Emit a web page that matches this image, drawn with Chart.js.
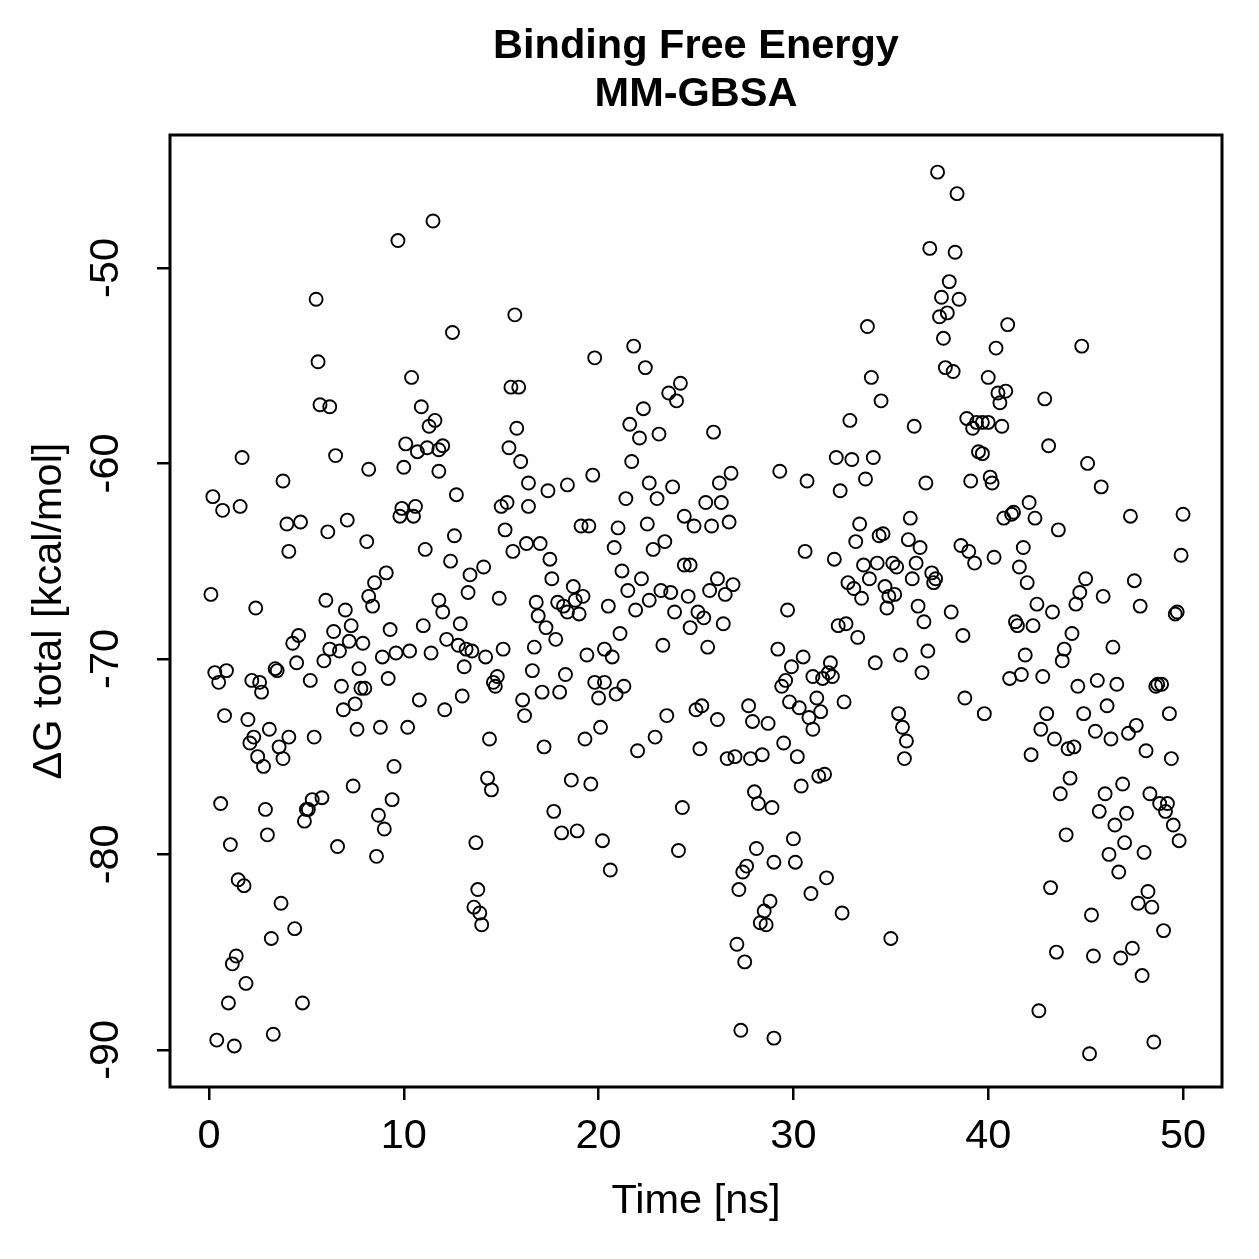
<!DOCTYPE html>
<html>
<head>
<meta charset="utf-8">
<script src="https://cdn.jsdelivr.net/npm/chart.js@4"></script>
<style>
  html, body { margin: 0; padding: 0; background: #fff; }
  #wrap { width: 1259px; height: 1259px; }
</style>
</head>
<body>
<div id="wrap"><canvas id="myChart" width="1259" height="1259"></canvas></div>
<script>
const titleLines = ["Binding Free Energy", "MM-GBSA"];
const xTitle = "Time [ns]";
const yTitle = "ΔG total [kcal/mol]";
const xTicks = [0, 10, 20, 30, 40, 50];
const yTicks = [-90, -80, -70, -60, -50];

// time (ns) of each frame
const timeNs = [
  11.5, 9.7, 5.5, 5.6, 10.4, 5.7, 6.2, 10.9, 11.6, 11.3,
  10.1, 10.7, 11.2, 11.8, 12.0, 1.7, 6.5,
  8.2, 10.0, 11.8, 3.8, 0.2, 0.7, 1.6, 4.0, 4.7, 6.1,
  7.1, 8.1, 9.9, 10.6, 9.8, 10.5, 4.1, 11.1, 12.4, 9.1,
  8.5, 8.2, 8.4, 0.1, 2.4, 6.0, 7.0, 7.3, 6.4, 4.6,
  4.3, 7.2, 7.9, 9.3, 11.0, 11.8, 12.0, 12.2, 6.2, 6.7,
  5.9, 8.9, 9.6, 10.3, 11.4, 0.3, 0.9, 0.5, 2.2, 2.6,
  2.7, 3.4, 3.5, 4.5, 5.2, 7.7, 6.8, 7.8, 8.0, 9.2,
  10.8, 12.1, 0.8, 2.0, 3.1, 2.3, 2.1, 3.6, 4.1, 5.4,
  6.9, 7.5, 7.6, 8.8, 10.2, 2.5, 3.8,
  16.0, 21.7, 16.4, 17.4, 18.4, 19.7, 22.6, 23.8, 21.4, 23.0,
  12.7, 15.0, 15.3, 16.4, 24.4, 24.9, 15.2, 19.1, 19.5, 21.0,
  22.5, 12.6, 16.3, 17.0, 15.6, 20.8, 22.8, 23.4, 17.5, 17.6,
  14.1, 13.4, 24.4, 24.7, 21.2, 22.2, 18.7, 19.2, 18.8, 17.9,
  18.2, 18.4, 19.0, 16.8, 16.9, 17.3, 17.8, 14.9, 13.3, 20.5,
  21.5, 21.9, 22.6, 23.2, 23.7, 23.9, 24.6, 24.7, 21.1, 12.9,
  12.8, 13.2, 13.5, 14.2, 15.1, 16.7, 23.3, 19.4, 20.3, 20.7,
  13.1, 16.6, 18.3, 14.8, 14.6, 14.7, 19.8, 20.3, 21.3, 20.9,
  20.0, 17.1, 18.0, 16.1, 13.0, 16.2, 23.5, 20.1, 22.9, 14.4,
  17.2, 19.3, 22.0,
  32.2, 33.0, 34.1, 29.3, 30.7, 32.4, 33.7, 36.8, 26.8, 26.2,
  25.5, 26.3, 25.8, 26.7, 30.6, 32.1, 33.4, 34.4, 34.6, 33.2,
  36.0, 35.9, 36.5, 26.1, 26.9, 25.7, 26.5, 25.1, 25.4, 26.4,
  25.6, 29.7, 33.6, 34.3, 35.1, 35.3, 36.3, 37.1, 37.3, 37.2,
  36.1, 33.9, 32.8, 33.1, 33.5, 34.7, 34.9, 35.2, 34.8, 36.4,
  36.7, 32.3, 32.7, 33.3, 35.5, 36.9, 36.6, 34.2, 29.2, 30.5,
  29.9, 31.9, 31.0, 31.5, 31.8, 32.0, 29.6, 29.4, 29.8, 30.3,
  31.2, 31.4, 30.8, 31.0, 32.6, 27.7, 27.9, 28.7, 25.0, 25.3,
  26.1, 25.2, 29.5, 35.4, 35.6, 35.8, 26.6, 27.0, 27.8, 28.4,
  30.2, 35.7,
  45.1, 45.8, 39.1, 40.1, 40.2, 42.1, 40.8, 41.2, 41.3, 42.4,
  43.6, 47.3, 50.0, 38.6, 39.0, 39.3, 40.3, 41.8, 41.6, 42.0,
  49.9, 45.0, 44.7, 44.5, 45.9, 47.5, 47.8, 42.5, 43.3, 38.1,
  41.4, 41.5, 42.3, 38.7, 44.3, 43.9, 43.8, 46.4, 49.7, 49.6,
  41.9, 41.7, 41.1, 42.8, 44.6, 45.6, 46.6, 48.6, 48.7, 48.9,
  38.8, 39.8, 43.0, 44.9, 46.1, 49.3, 42.7, 43.4, 45.5, 46.3,
  47.2, 47.6, 44.1, 44.4, 42.2, 48.1, 49.4,
  37.4, 38.4, 37.0, 38.3, 38.0, 37.6, 38.5, 37.9, 37.5, 37.7,
  41.0, 40.4, 44.8, 37.8, 38.2, 40.0, 40.5, 40.9, 40.6, 42.9,
  38.9, 39.2, 39.4, 39.7, 40.0, 40.7, 43.1, 39.5, 39.7,
  33.8, 34.0, 34.5, 32.9, 36.2, 25.9,
  15.7, 12.5, 19.8, 21.8, 22.4, 24.2, 23.6, 24.0, 22.3, 21.6,
  22.1, 23.1, 15.5, 15.9, 15.8, 15.4,
  44.2, 46.9, 43.7, 46.0, 48.3, 48.8, 49.2, 49.1, 45.7, 47.1,
  46.5, 49.5, 49.8, 44.0, 47.0, 46.2, 48.0, 46.7, 43.2, 48.2,
  47.7, 48.4, 45.3, 49.0, 43.5, 45.4, 46.8, 47.4, 47.9, 42.6,
  48.5, 45.2,
  31.6, 31.3, 30.4, 28.0, 28.2, 28.9, 24.3, 30.0, 28.1, 29.0,
  30.1, 27.6, 27.4, 31.7, 27.2, 30.9, 28.8, 28.5, 28.3, 28.6,
  32.5, 35.0, 27.1, 27.5, 27.3, 29.0,
  14.3, 14.5, 18.6, 19.6, 17.7, 18.1, 18.9, 20.2, 13.7, 24.1,
  20.6, 13.8, 13.6, 13.9, 14.0,
  2.8, 9.5, 7.4, 9.4, 0.6, 2.9, 5.3, 5.8, 5.0, 5.1,
  4.9, 8.7, 9.0, 3.0, 1.1, 6.6, 8.6, 1.5, 1.8, 3.7,
  4.4, 3.2, 1.4, 1.2, 1.9, 1.0, 4.8, 3.3, 0.4, 1.3
];

// ΔG total (kcal/mol), same order as timeNs
const dGTotal = [
  -47.6, -48.6, -51.6, -54.8, -55.6, -57.0, -57.1, -57.1, -57.8, -58.1,
  -59.0, -59.4, -59.2, -59.3, -59.1, -59.7, -59.6,
  -60.3, -60.2, -60.4, -60.9, -61.7, -62.4, -62.2, -63.1, -63.0, -63.5,
  -62.9, -64.0, -62.3, -62.2, -62.7, -62.7, -64.5, -64.4, -65.0, -65.6,
  -66.1, -66.8, -67.3, -66.7, -67.4, -67.0, -67.5, -68.3, -68.6, -68.8,
  -69.2, -69.1, -69.2, -68.5, -68.3, -67.0, -67.6, -69.0, -69.5, -69.6,
  -70.1, -69.9, -69.7, -69.6, -69.7, -70.7, -70.6, -71.2, -71.1, -71.2,
  -71.7, -70.5, -70.6, -70.2, -71.1, -70.5, -71.4, -71.5, -71.5, -71.0,
  -72.1, -72.6, -72.9, -73.1, -73.6, -74.0, -74.3, -74.5, -74.0, -74.0,
  -72.6, -72.3, -73.6, -73.5, -73.5, -75.0, -75.1,
  -59.9, -59.9, -61.0, -61.4, -61.1, -60.6, -61.0, -61.2, -61.8, -61.8,
  -61.6, -62.2, -62.0, -62.2, -62.7, -63.2, -63.4, -63.2, -63.2, -63.3,
  -63.1, -63.7, -64.1, -64.1, -64.5, -64.3, -64.4, -64.0, -64.9, -65.9,
  -65.3, -65.7, -65.2, -65.2, -65.5, -65.9, -66.3, -66.8, -67.0, -67.1,
  -67.3, -67.6, -67.7, -67.1, -67.8, -68.4, -69.0, -66.9, -66.6, -67.3,
  -66.5, -67.5, -67.0, -66.5, -66.6, -67.6, -66.8, -68.4, -68.7, -68.2,
  -69.3, -69.5, -69.6, -69.9, -69.5, -69.4, -69.3, -69.8, -69.5, -69.9,
  -70.4, -70.6, -70.8, -70.9, -71.2, -71.4, -71.2, -71.2, -71.4, -71.8,
  -72.0, -71.7, -71.7, -72.1, -71.9, -72.9, -72.9, -73.5, -74.0, -74.1,
  -74.5, -74.1, -74.7,
  -59.7, -59.8, -59.7, -60.4, -60.9, -61.4, -60.8, -61.0, -60.5, -61.0,
  -62.0, -62.0, -63.2, -63.0, -64.5, -64.9, -63.1, -63.7, -63.6, -64.0,
  -62.8, -63.9, -64.3, -65.9, -66.2, -66.5, -66.7, -67.6, -67.9, -68.2,
  -69.4, -67.5, -65.2, -65.1, -65.1, -65.3, -65.1, -65.6, -65.9, -66.1,
  -65.9, -65.9, -66.1, -66.4, -66.9, -66.3, -66.8, -66.7, -67.4, -67.3,
  -68.1, -68.3, -68.2, -68.9, -69.8, -69.6, -70.7, -70.2, -69.5, -69.9,
  -70.4, -70.2, -70.9, -71.0, -70.7, -70.9, -71.1, -71.4, -72.2, -72.5,
  -72.0, -72.7, -73.0, -73.6, -72.2, -72.4, -73.2, -73.3, -72.6, -72.4,
  -73.1, -74.6, -74.3, -72.8, -73.5, -74.2, -75.1, -75.0, -75.1, -74.9,
  -75.0, -75.1,
  -60.0, -61.2, -60.9, -60.7, -61.0, -62.0, -62.8, -62.6, -62.5, -62.8,
  -63.4, -62.7, -62.6, -64.2, -64.5, -65.1, -64.8, -64.3, -65.3, -66.1,
  -64.7, -65.9, -66.6, -67.2, -66.8, -66.0, -67.3, -67.2, -67.6, -67.6,
  -68.1, -68.3, -68.3, -68.8, -68.7, -69.5, -70.1, -69.4, -67.6, -67.7,
  -69.8, -70.8, -71.0, -70.9, -71.4, -71.1, -71.3, -71.4, -71.3, -71.3,
  -72.0, -72.8, -72.8, -72.8, -72.4, -72.8, -73.6, -74.1, -73.7, -74.1,
  -73.8, -73.4, -74.6, -74.5, -74.9, -74.7, -75.1,
  -45.1, -46.2, -49.0, -49.2, -50.7, -51.5, -51.6, -52.3, -52.5, -53.6,
  -52.9, -54.1, -54.0, -55.1, -55.3, -55.6, -56.4, -56.3, -56.9, -56.7,
  -57.7, -58.2, -57.9, -57.9, -57.9, -58.1, -59.1, -59.4, -59.5,
  -53.0, -55.6, -56.8, -57.8, -58.1, -58.4,
  -52.4, -53.3, -54.6, -54.0, -55.1, -55.9, -56.4, -56.8, -57.2, -58.0,
  -58.7, -58.5, -56.1, -56.1, -58.2, -59.2,
  -76.1, -76.4, -76.9, -76.9, -76.9, -77.4, -77.4, -77.8, -77.8, -77.9,
  -78.5, -78.5, -79.3, -79.0, -79.4, -80.0, -79.9, -80.9, -81.7, -81.9,
  -82.5, -82.7, -83.1, -83.9, -85.0, -85.2, -85.3, -84.8, -86.2, -88.0,
  -89.6, -90.2,
  -75.9, -76.0, -76.5, -76.8, -77.4, -77.6, -77.6, -79.2, -79.7, -80.4,
  -80.4, -80.6, -80.9, -81.2, -81.8, -82.0, -82.4, -82.9, -83.5, -83.6,
  -83.0, -84.3, -84.6, -85.5, -89.0, -89.4,
  -76.1, -76.7, -76.2, -76.4, -77.8, -78.9, -78.8, -79.3, -79.4, -79.8,
  -80.8, -81.8, -82.7, -83.0, -83.6,
  -75.5, -75.5, -76.5, -77.2, -77.4, -77.7, -77.2, -77.1, -77.7, -77.7,
  -78.3, -78.0, -78.7, -79.0, -79.5, -79.6, -80.1, -81.3, -81.6, -82.5,
  -83.8, -84.3, -85.2, -85.6, -86.6, -87.6, -87.6, -89.2, -89.5, -89.8
];

const points = timeNs.map((t, i) => ({ x: t, y: dGTotal[i] }));

const FONT = '"Liberation Sans", Arial, Helvetica, sans-serif';

// R-style box, tick labels and axis titles
const rStyle = {
  id: "rStyle",
  afterDraw(chart) {
    const { ctx, chartArea: a } = chart;
    const xs = chart.scales.x, ys = chart.scales.y;
    ctx.save();
    ctx.strokeStyle = "#000";
    ctx.lineWidth = 3;
    ctx.strokeRect(a.left, a.top, a.right - a.left, a.bottom - a.top);

    ctx.fillStyle = "#000";
    ctx.textAlign = "center";
    ctx.textBaseline = "middle";
    const cx = (a.left + a.right) / 2;
    const cy = (a.top + a.bottom) / 2;

    ctx.font = "bold 41.5px " + FONT;
    ctx.fillText(titleLines[0], cx, 47);
    ctx.fillText(titleLines[1], cx, 95);

    ctx.font = "41.5px " + FONT;
    xTicks.forEach(v => ctx.fillText(String(v), xs.getPixelForValue(v), 1137));
    ctx.fillText(xTitle, cx, 1202);

    yTicks.forEach(v => {
      ctx.save();
      ctx.translate(107, ys.getPixelForValue(v));
      ctx.rotate(-Math.PI / 2);
      ctx.fillText(String(v), 0, 0);
      ctx.restore();
    });
    ctx.save();
    ctx.translate(50, cy);
    ctx.rotate(-Math.PI / 2);
    ctx.fillText(yTitle, 0, 0);
    ctx.restore();
    ctx.restore();
  }
};

const ctx = document.getElementById("myChart").getContext("2d");
const myChart = new Chart(ctx, {
  type: "scatter",
  data: {
    datasets: [{
      data: points,
      pointStyle: "circle",
      pointRadius: 6.5,
      pointBorderWidth: 1.9,
      borderColor: "#000",
      backgroundColor: "rgba(0,0,0,0)",
      pointHoverRadius: 6.5
    }]
  },
  options: {
    responsive: false,
    animation: false,
    events: [],
    layout: { padding: { top: 135, right: 37, left: 0, bottom: 0 } },
    plugins: { legend: { display: false }, tooltip: { enabled: false }, title: { display: false } },
    scales: {
      x: {
        type: "linear",
        min: -2,
        max: 52,
        afterBuildTicks: s => { s.ticks = xTicks.map(v => ({ value: v })); },
        afterFit: s => { s.height = 172; },
        ticks: { display: false },
        grid: { drawOnChartArea: false, drawTicks: true, tickLength: 13, color: "#000", lineWidth: 2.5 },
        border: { display: false }
      },
      y: {
        type: "linear",
        min: -91.9,
        max: -43.2,
        afterBuildTicks: s => { s.ticks = yTicks.map(v => ({ value: v })); },
        afterFit: s => { s.width = 170; },
        ticks: { display: false },
        grid: { drawOnChartArea: false, drawTicks: true, tickLength: 13, color: "#000", lineWidth: 2.5 },
        border: { display: false }
      }
    }
  },
  plugins: [rStyle]
});
</script>
</body>
</html>
